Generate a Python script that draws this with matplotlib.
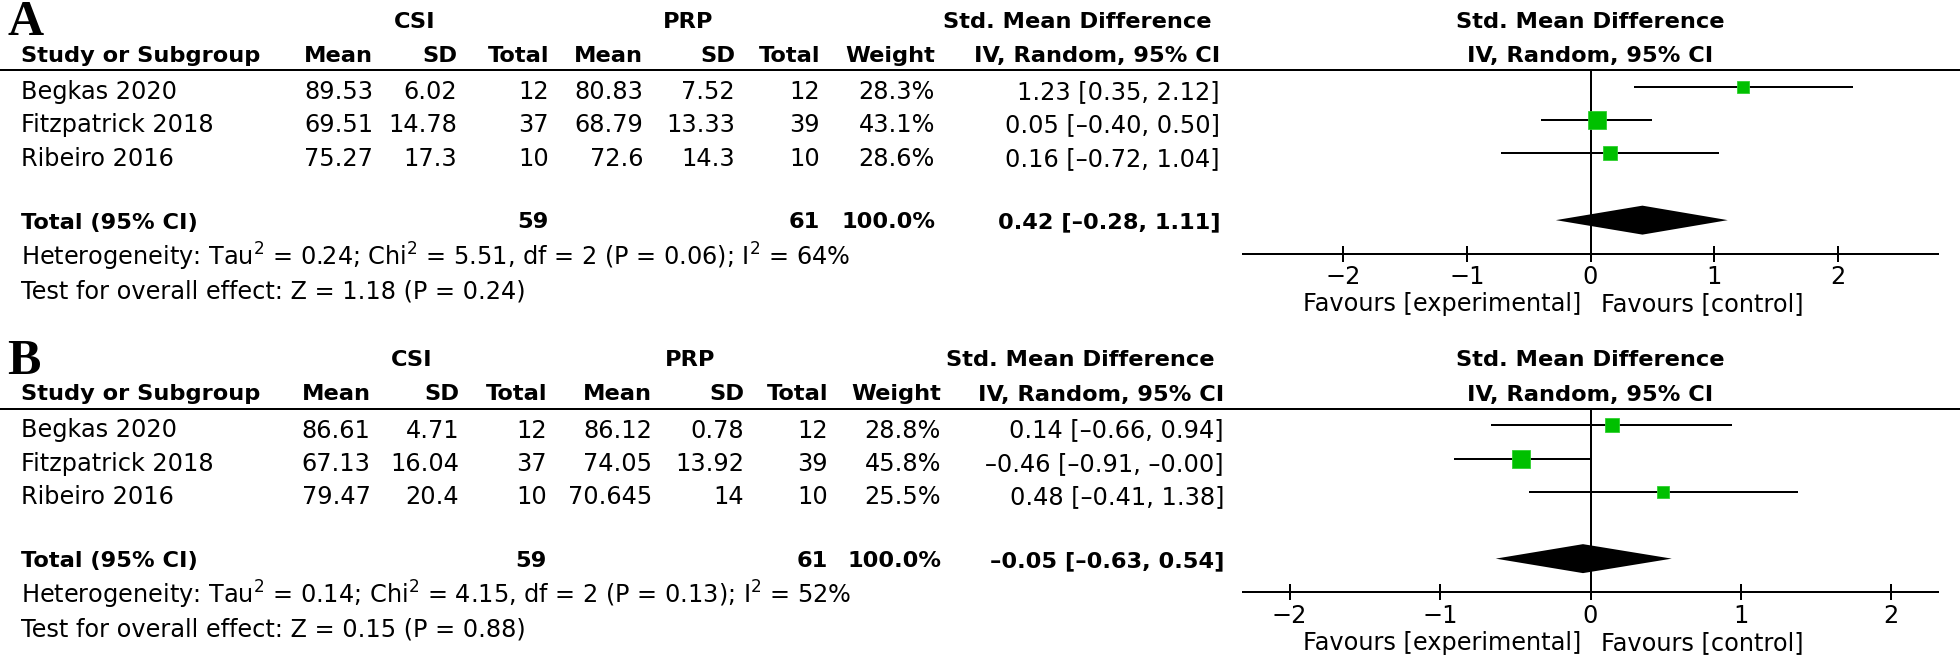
import matplotlib
matplotlib.use("Agg")
import matplotlib.pyplot as plt

# ---- data (panel A) ----
studies = ["Begkas 2020", "Fitzpatrick 2018", "Ribeiro 2016"]
csi_n = [12, 37, 10]
prp_n = [12, 39, 10]

csi_mean_a = [89.53, 69.51, 75.27]
csi_sd_a = [6.02, 14.78, 17.3]
prp_mean_a = [80.83, 68.79, 72.6]
prp_sd_a = [7.52, 13.33, 14.3]
weight_a = [28.3, 43.1, 28.6]
smd_a = [1.23, 0.05, 0.16]
lo_a = [0.35, -0.40, -0.72]
hi_a = [2.12, 0.50, 1.04]
total_a = [0.42, -0.28, 1.11]
het_a = "Heterogeneity: Tau$^2$ = 0.24; Chi$^2$ = 5.51, df = 2 (P = 0.06); I$^2$ = 64%"
test_a = "Test for overall effect: Z = 1.18 (P = 0.24)"

# ---- data (panel B) ----
csi_mean_b = [86.61, 67.13, 79.47]
csi_sd_b = [4.71, 16.04, 20.4]
prp_mean_b = [86.12, 74.05, 70.645]
prp_sd_b = [0.78, 13.92, 14]
weight_b = [28.8, 45.8, 25.5]
smd_b = [0.14, -0.46, 0.48]
lo_b = [-0.66, -0.91, -0.41]
hi_b = [0.94, -0.0, 1.38]
total_b = [-0.05, -0.63, 0.54]
het_b = "Heterogeneity: Tau$^2$ = 0.14; Chi$^2$ = 4.15, df = 2 (P = 0.13); I$^2$ = 52%"
test_b = "Test for overall effect: Z = 0.15 (P = 0.88)"

total_weight = 100.0
ticks = [-2, -1, 0, 1, 2]
GREEN = "#00c000"

W, H = 1960, 655
REG = 17.3
BOLD = 16.2
LW = 1.44

fig = plt.figure(figsize=(W / 100, H / 100), dpi=100)
tab = fig.add_axes([0, 0, 1, 1])
tab.set_xlim(0, W)
tab.set_ylim(H, 0)
tab.axis("off")


def num(v):
    return f"{v:g}"


def ci_text(est, lo, hi):
    s = f"{est:.2f} [{lo:.2f}, {hi:.2f}]"
    return s.replace("-", "\u2013")


def draw_panel(letter, dy, cols, grp_x, std_right, lim,
               csi_mean, csi_sd, prp_mean, prp_sd, weight, smd, lo, hi, total, het, test):
    # panel letter
    tab.text(7, 35 + dy, letter, fontsize=36, fontweight="bold",
             family="Liberation Serif", va="baseline")

    # header rows
    tab.text(grp_x[0], 28 + dy, "CSI", fontsize=BOLD, fontweight="bold", ha="center", va="baseline")
    tab.text(grp_x[1], 28 + dy, "PRP", fontsize=BOLD, fontweight="bold", ha="center", va="baseline")
    tab.text(std_right, 28 + dy, "Std. Mean Difference", fontsize=BOLD, fontweight="bold",
             ha="right", va="baseline")
    tab.text(21, 62 + dy, "Study or Subgroup", fontsize=BOLD, fontweight="bold", va="baseline")
    heads = ["Mean", "SD", "Total", "Mean", "SD", "Total", "Weight", "IV, Random, 95% CI"]
    for x, h in zip(cols, heads):
        tab.text(x, 62 + dy, h, fontsize=BOLD, fontweight="bold", ha="right", va="baseline")

    line_y = 70 + dy
    tab.plot([0, W], [line_y, line_y], color="k", lw=LW, solid_capstyle="butt")

    # study rows
    for i, name in enumerate(studies):
        y = 99 + 33.4 * i + dy
        vals = [num(csi_mean[i]), num(csi_sd[i]), str(csi_n[i]),
                num(prp_mean[i]), num(prp_sd[i]), str(prp_n[i]),
                f"{weight[i]:.1f}%", ci_text(smd[i], lo[i], hi[i])]
        tab.text(21, y, name, fontsize=REG, va="baseline")
        for x, v in zip(cols, vals):
            tab.text(x, y, v, fontsize=REG, ha="right", va="baseline")

    # total row
    ty = 228.5 + dy
    tab.text(21, ty, "Total (95% CI)", fontsize=BOLD, fontweight="bold", va="baseline")
    tot_vals = {2: str(sum(csi_n)), 5: str(sum(prp_n)), 6: f"{total_weight:.1f}%",
                7: ci_text(*total)}
    for k, v in tot_vals.items():
        tab.text(cols[k], ty, v, fontsize=BOLD, fontweight="bold", ha="right", va="baseline")
    tab.text(21, 265.5 + dy, het, fontsize=REG, va="baseline")
    tab.text(21, 298 + dy, test, fontsize=REG, va="baseline")

    # forest plot
    x0, x1 = 1243, 1938
    y0, y1 = line_y, 253.5 + dy
    ax = fig.add_axes([x0 / W, 1 - y1 / H, (x1 - x0) / W, (y1 - y0) / H])
    ax.patch.set_visible(False)
    ax.set_xlim(-lim, lim)
    ax.set_ylim(5, -0.5)
    for s in ["top", "left", "right"]:
        ax.spines[s].set_visible(False)
    ax.spines["bottom"].set_linewidth(LW)
    ax.set_yticks([])
    ax.set_xticks(ticks)
    ax.tick_params(axis="x", direction="inout", length=11, width=LW, pad=3, labelsize=REG)
    ax.axvline(0, color="k", lw=LW)

    rows = list(range(len(studies)))
    ax.hlines(rows, lo, hi, color="k", lw=LW)
    for r, e, w in zip(rows, smd, weight):
        side = 1.057 * w ** 0.75 * 0.72
        ax.plot(e, r, marker="s", ms=side, color=GREEN, mec="#30d030", mew=0.6, ls="none")

    est, tlo, thi = total
    hh = 0.434
    ax.fill([tlo, est, thi, est], [4, 4 - hh, 4, 4 + hh], color="k", lw=0)

    ax.annotate("Favours [experimental]", xy=(0, 0), xycoords=("data", "axes fraction"),
                xytext=(-6.5, -41.5), textcoords="offset points", ha="right", va="baseline",
                fontsize=REG)
    ax.annotate("Favours [control]", xy=(0, 0), xycoords=("data", "axes fraction"),
                xytext=(7.5, -41.5), textcoords="offset points", ha="left", va="baseline",
                fontsize=REG)

    zx = (x0 + x1) / 2
    tab.text(zx, 28 + dy, "Std. Mean Difference", fontsize=BOLD, fontweight="bold",
             ha="center", va="baseline")
    tab.text(zx, 62 + dy, "IV, Random, 95% CI", fontsize=BOLD, fontweight="bold",
             ha="center", va="baseline")


draw_panel("A", 0, [373, 457, 549, 643, 735, 820, 935, 1220], [415, 688], 1211, 2.81,
           csi_mean_a, csi_sd_a, prp_mean_a, prp_sd_a, weight_a, smd_a, lo_a, hi_a,
           total_a, het_a, test_a)
draw_panel("B", 338.5, [370.5, 459, 547, 652, 744, 828, 941, 1224], [412, 690], 1214.5, 2.31,
           csi_mean_b, csi_sd_b, prp_mean_b, prp_sd_b, weight_b, smd_b, lo_b, hi_b,
           total_b, het_b, test_b)

fig.savefig("out.png", dpi=100, facecolor="white")
